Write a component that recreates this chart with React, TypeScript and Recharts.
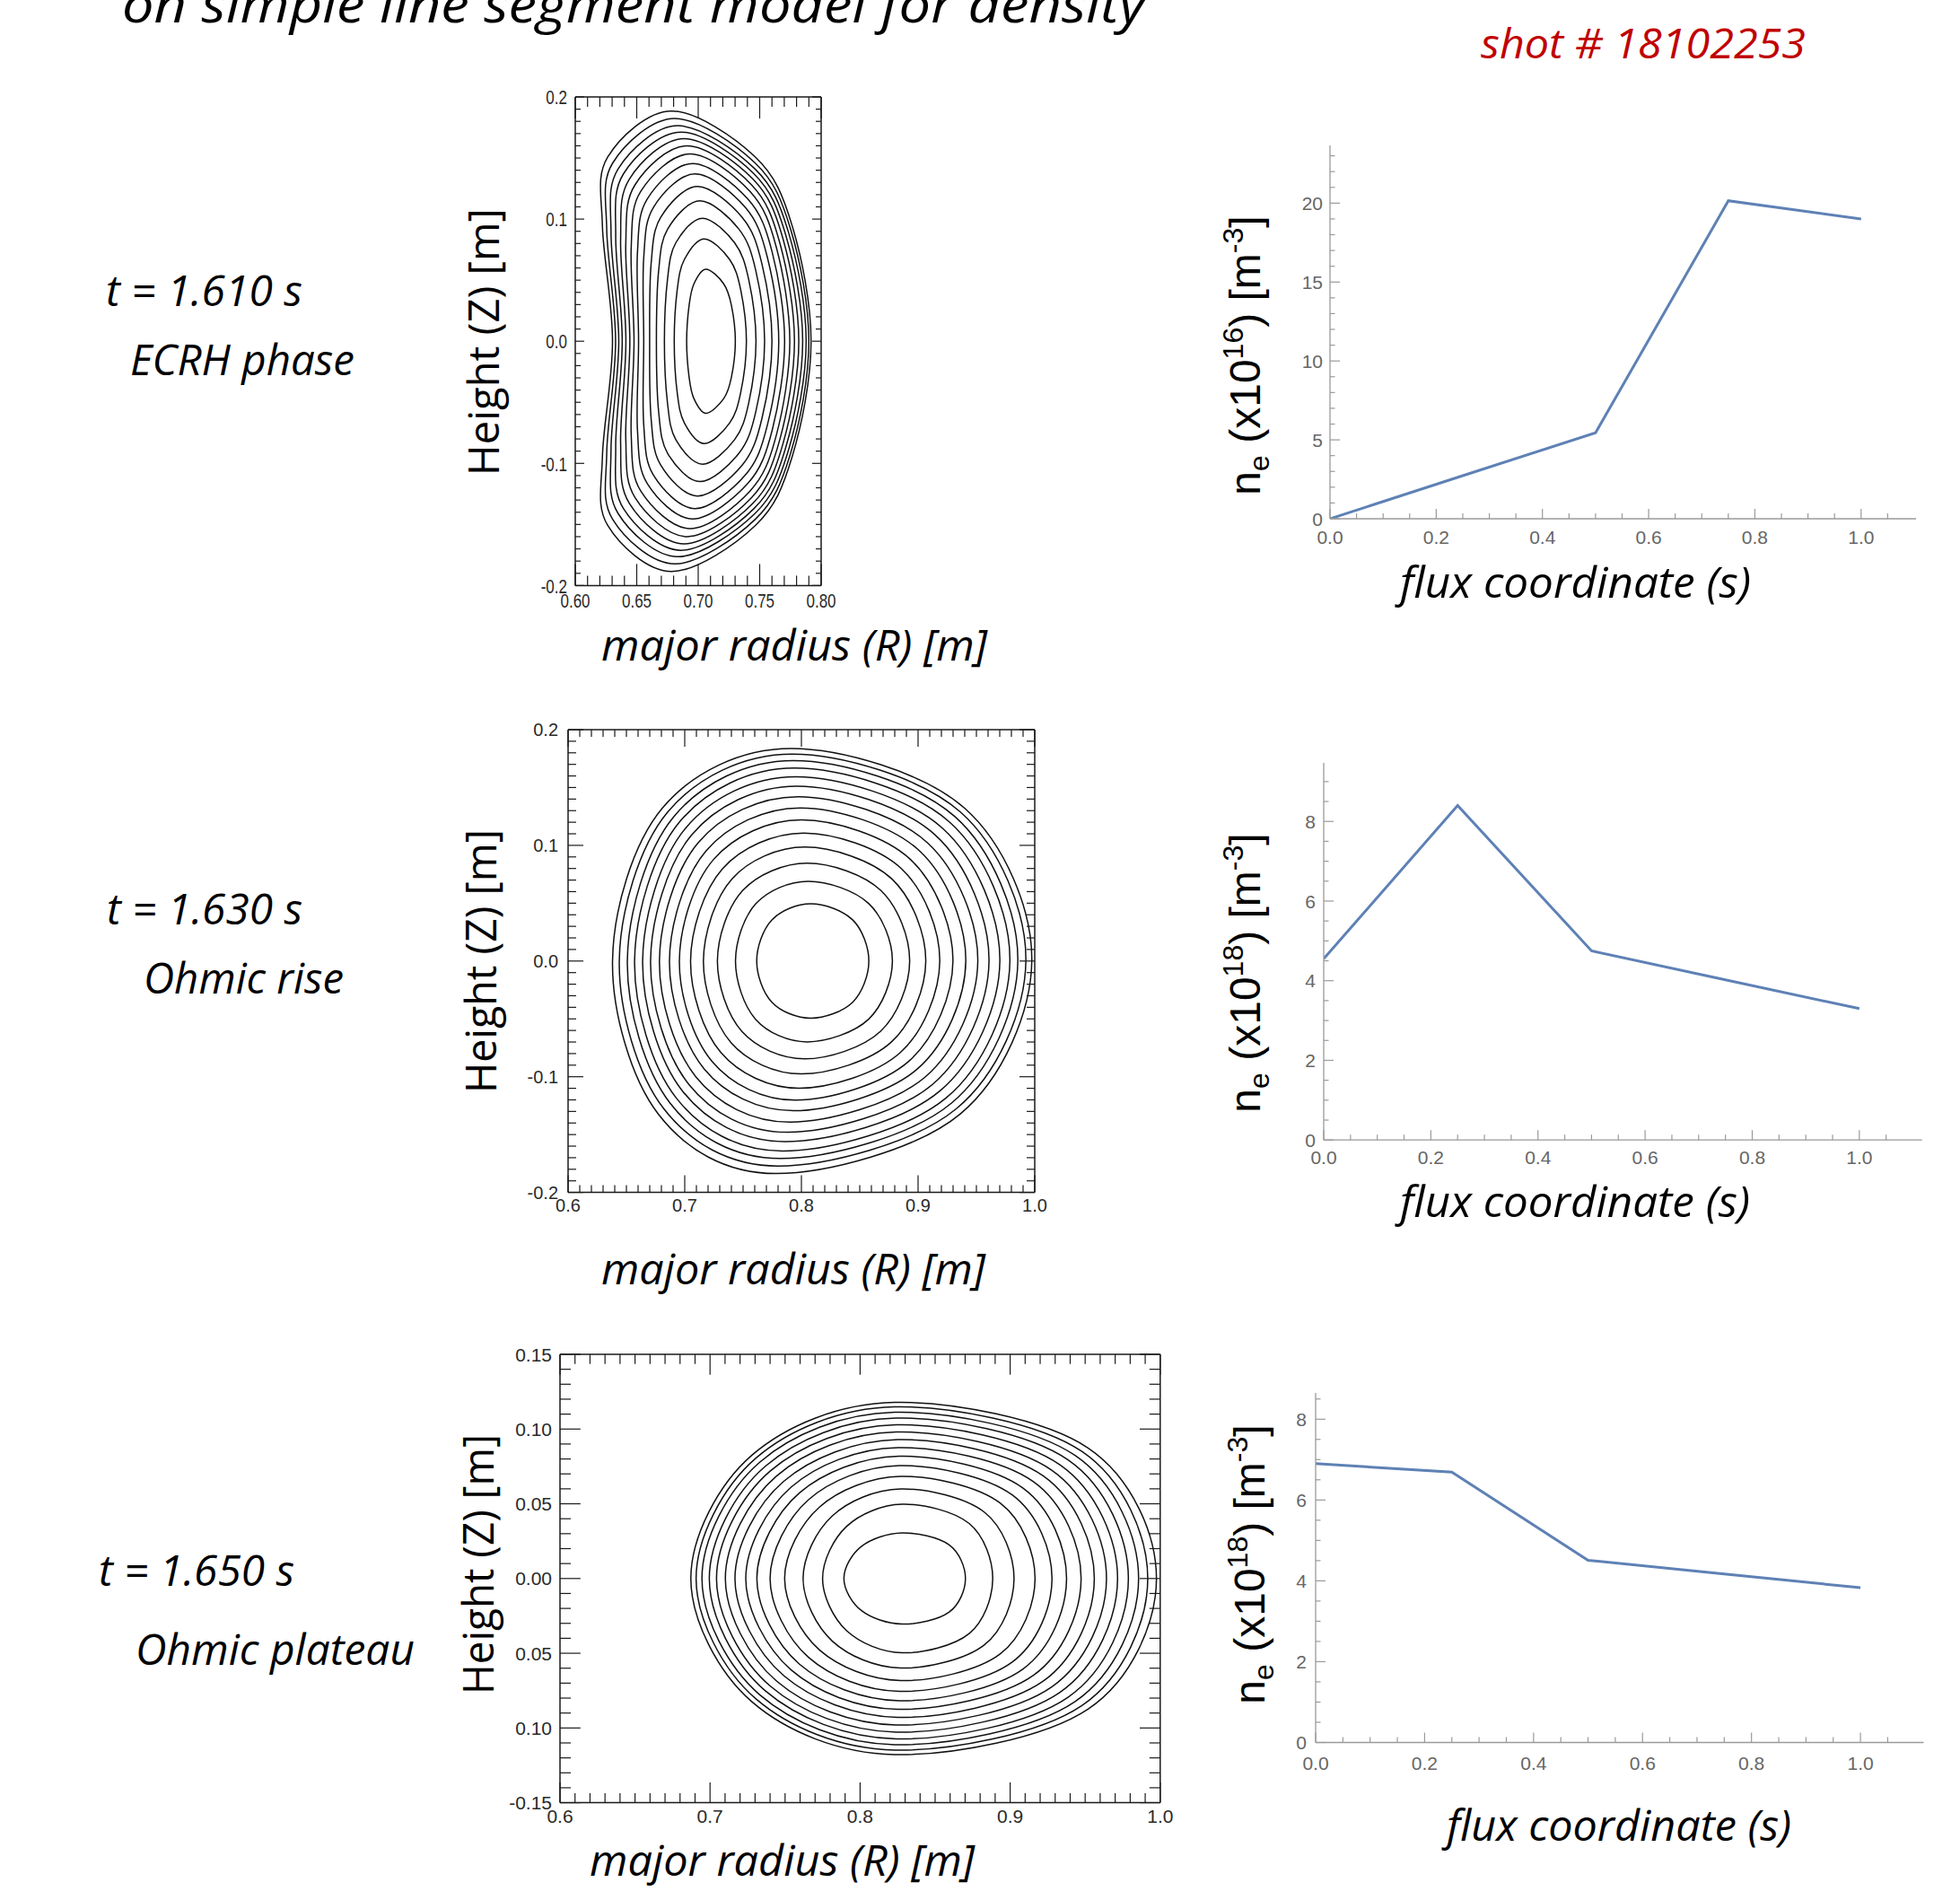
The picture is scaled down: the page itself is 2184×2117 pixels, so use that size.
import React from "react";
import { LineChart, Line, XAxis, YAxis } from "recharts";

// ---------------- data ----------------
const fluxS = [0, 0.25, 0.5, 0.75, 1.0];
const neEcrh = [0, 2.73, 5.45, 20.15, 19.0]; // x10^16 m^-3, t = 1.610 s
const neOhmicRise = [4.55, 8.4, 4.75, 4.02, 3.3]; // x10^18 m^-3, t = 1.630 s
const neOhmicPlateau = [6.9, 6.69, 4.51, 4.17, 3.83]; // x10^18 m^-3, t = 1.650 s

const timeLabels = ["t = 1.610 s", "t = 1.630 s", "t = 1.650 s"];
const phaseLabels = ["ECRH phase", "Ohmic rise", "Ohmic plateau"];
const neExponents = ["16", "18", "18"];

// flux surfaces [R, Z] in metres, inner -> outer
const ecrhSurfaces = [
  [[.7302,0],[.7270,.0295],[.7206,.0472],[.7063,.0590],[.6966,.0472],[.6926,.0295],[.6906,0],[.6926,-.0295],[.6966,-.0472],[.7063,-.0590],[.7206,-.0472],[.7270,-.0295]],
  [[.7392,0],[.7346,.0419],[.7255,.0670],[.7050,.0838],[.6888,.0670],[.6829,.0419],[.6805,0],[.6829,-.0419],[.6888,-.0670],[.7050,-.0838],[.7255,-.0670],[.7346,-.0419]],
  [[.7470,0],[.7411,.0504],[.7296,.0806],[.7035,.1007],[.6818,.0806],[.6750,.0504],[.6725,0],[.6750,-.0504],[.6818,-.0806],[.7035,-.1007],[.7296,-.0806],[.7411,-.0504]],
  [[.7540,0],[.7469,.0575],[.7330,.0919],[.7015,.1149],[.6752,.0919],[.6678,.0575],[.6660,0],[.6678,-.0575],[.6752,-.0919],[.7015,-.1149],[.7330,-.0919],[.7469,-.0575]],
  [[.7600,0],[.7518,.0634],[.7358,.1014],[.6995,.1267],[.6695,.1014],[.6617,.0634],[.6605,0],[.6617,-.0634],[.6695,-.1014],[.6995,-.1267],[.7358,-.1014],[.7518,-.0634]],
  [[.7655,0],[.7563,.0685],[.7383,.1096],[.6975,.1370],[.6636,.1096],[.6557,.0685],[.6557,0],[.6557,-.0685],[.6636,-.1096],[.6975,-.1370],[.7383,-.1096],[.7563,-.0685]],
  [[.7703,0],[.7602,.0728],[.7404,.1164],[.6955,.1455],[.6585,.1164],[.6506,.0728],[.6515,0],[.6506,-.0728],[.6585,-.1164],[.6955,-.1455],[.7404,-.1164],[.7602,-.0728]],
  [[.7745,0],[.7636,.0767],[.7421,.1227],[.6935,.1534],[.6533,.1227],[.6455,.0767],[.6478,0],[.6455,-.0767],[.6533,-.1227],[.6935,-.1534],[.7421,-.1227],[.7636,-.0767]],
  [[.7783,0],[.7665,.0800],[.7434,.1280],[.6910,.1600],[.6486,.1280],[.6411,.0800],[.6444,0],[.6411,-.0800],[.6486,-.1280],[.6910,-.1600],[.7434,-.1280],[.7665,-.0800]],
  [[.7818,0],[.7692,.0830],[.7445,.1327],[.6885,.1659],[.6440,.1327],[.6369,.0830],[.6412,0],[.6369,-.0830],[.6440,-.1327],[.6885,-.1659],[.7445,-.1327],[.7692,-.0830]],
  [[.7850,0],[.7716,.0856],[.7454,.1370],[.6860,.1712],[.6392,.1370],[.6329,.0856],[.6382,0],[.6329,-.0856],[.6392,-.1370],[.6860,-.1712],[.7454,-.1370],[.7716,-.0856]],
  [[.7878,0],[.7737,.0882],[.7461,.1411],[.6835,.1764],[.6349,.1411],[.6291,.0882],[.6354,0],[.6291,-.0882],[.6349,-.1411],[.6835,-.1764],[.7461,-.1411],[.7737,-.0882]],
  [[.7900,0],[.7753,.0912],[.7464,.1458],[.6810,.1823],[.6304,.1458],[.6256,.0912],[.6328,0],[.6256,-.0912],[.6304,-.1458],[.6810,-.1823],[.7464,-.1458],[.7753,-.0912]],
  [[.7918,0],[.7765,.0943],[.7465,.1508],[.6785,.1885],[.6264,.1508],[.6221,.0943],[.6303,0],[.6221,-.0943],[.6264,-.1508],[.6785,-.1885],[.7465,-.1508],[.7765,-.0943]],
];

const riseSurfaces = [
  [[.8578,0],[.8439,.0356],[.808,.0494],[.7747,.0356],[.7617,0],[.7747,-.0356],[.808,-.0494],[.8439,-.0356]],
  [[.878,0],[.8578,.0496],[.806,.0689],[.7610,.0496],[.7435,0],[.7607,-.0503],[.805,-.0699],[.8576,-.0503]],
  [[.8928,0],[.8682,.0609],[.805,.0846],[.7496,.0609],[.728,0],[.7490,-.0609],[.803,-.0846],[.8677,-.0609]],
  [[.9066,0],[.8776,.0709],[.803,.0985],[.7404,.0709],[.716,0],[.7395,-.0703],[.800,-.0976],[.8768,-.0703]],
  [[.9186,0],[.8860,.0796],[.802,.1106],[.7322,.0796],[.705,0],[.7310,-.0791],[.798,-.1099],[.8848,-.0791]],
  [[.9299,0],[.8935,.0878],[.800,.1220],[.7247,.0878],[.6954,0],[.7233,-.0866],[.795,-.1203],[.8921,-.0866]],
  [[.9409,0],[.9012,.0953],[.799,.1324],[.7183,.0953],[.6869,0],[.7166,-.0932],[.793,-.1294],[.8995,-.0932]],
  [[.9512,0],[.9080,.1023],[.797,.1421],[.7115,.1023],[.6783,0],[.7096,-.1002],[.790,-.1392],[.9061,-.1002]],
  [[.9608,0],[.9147,.1089],[.796,.1512],[.7058,.1089],[.6707,0],[.7035,-.1066],[.788,-.1480],[.9124,-.1066]],
  [[.9701,0],[.9211,.1147],[.795,.1593],[.7006,.1147],[.6639,0],[.6981,-.1124],[.786,-.1561],[.9186,-.1124]],
  [[.9787,0],[.9270,.1201],[.794,.1668],[.6954,.1201],[.657,0],[.6926,-.1182],[.784,-.1642],[.9242,-.1182]],
  [[.9855,0],[.9316,.1248],[.793,.1733],[.6906,.1248],[.6508,0],[.6875,-.1229],[.782,-.1707],[.9285,-.1229]],
  [[.9924,0],[.9363,.1288],[.792,.1789],[.6854,.1288],[.6439,0],[.6820,-.1276],[.780,-.1772],[.9329,-.1276]],
  [[.9975,0],[.9397,.1323],[.791,.1837],[.6809,.1323],[.6381,0],[.6773,-.1323],[.778,-.1837],[.9360,-.1323]],
];

const plateauSurfaces = [
  [[.8702,0],[.8592,.0226],[.828,.0305],[.8008,.0214],[.7892,0],[.8008,-.0214],[.828,-.0305],[.8592,-.0226]],
  [[.8884,0],[.8727,.0368],[.828,.0497],[.7909,.0348],[.7750,0],[.7909,-.0348],[.828,-.0497],[.8727,-.0368]],
  [[.9026,0],[.8829,.0443],[.827,.0599],[.7815,.0419],[.7620,0],[.7815,-.0419],[.827,-.0599],[.8829,-.0443]],
  [[.9166,0],[.8933,.0505],[.827,.0683],[.7729,.0478],[.7497,0],[.7729,-.0478],[.827,-.0683],[.8933,-.0505]],
  [[.9279,0],[.9014,.0559],[.826,.0755],[.7658,.0529],[.7400,0],[.7658,-.0529],[.826,-.0755],[.9014,-.0559]],
  [[.9376,0],[.9086,.0605],[.826,.0818],[.7596,.0573],[.7312,0],[.7596,-.0573],[.826,-.0818],[.9086,-.0605]],
  [[.9473,0],[.9155,.0648],[.825,.0875],[.7542,.0613],[.7238,0],[.7542,-.0613],[.825,-.0875],[.9155,-.0648]],
  [[.9561,0],[.9220,.0687],[.825,.0929],[.7491,.0650],[.7166,0],[.7491,-.0650],[.825,-.0929],[.9220,-.0687]],
  [[.9642,0],[.9277,.0725],[.824,.0980],[.7443,.0686],[.7102,0],[.7443,-.0686],[.824,-.0980],[.9277,-.0725]],
  [[.9716,0],[.9332,.0761],[.824,.1028],[.7402,.0720],[.7043,0],[.7402,-.0720],[.824,-.1028],[.9332,-.0761]],
  [[.9788,0],[.9386,.0794],[.824,.1073],[.7368,.0751],[.6995,0],[.7368,-.0751],[.824,-.1073],[.9386,-.0794]],
  [[.9856,0],[.9433,.0823],[.823,.1112],[.7331,.0778],[.6946,0],[.7331,-.0778],[.823,-.1112],[.9433,-.0823]],
  [[.9917,0],[.9478,.0850],[.823,.1148],[.7304,.0804],[.6907,0],[.7304,-.0804],[.823,-.1148],[.9478,-.0850]],
  [[.9975,0],[.9521,.0872],[.823,.1178],[.7279,.0825],[.6872,0],[.7279,-.0825],[.823,-.1178],[.9521,-.0872]],
];

// tick labels
const rTicksFine = [0.6, 0.65, 0.7, 0.75, 0.8];
const rLabelsFine = ["0.60", "0.65", "0.70", "0.75", "0.80"];
const rTicksWide = [0.6, 0.7, 0.8, 0.9, 1.0];
const rLabelsWide = ["0.6", "0.7", "0.8", "0.9", "1.0"];
const zTicks02 = [-0.2, -0.1, 0, 0.1, 0.2];
const zLabels02 = ["-0.2", "-0.1", "0.0", "0.1", "0.2"];
const zTicks015 = [-0.15, -0.1, -0.05, 0, 0.05, 0.1, 0.15];
const zLabels015 = ["-0.15", "0.10", "0.05", "0.00", "0.05", "0.10", "0.15"];
const sTicks = [0, 0.2, 0.4, 0.6, 0.8, 1.0];

// ---------------- helpers ----------------
const steps = (a: number, b: number, s: number) => {
  const out: number[] = [];
  for (let i = 0; a + i * s <= b + 1e-9; i++) out.push(+(a + i * s).toFixed(6));
  return out;
};

// closed Catmull-Rom curve through the surface points
const closedSpline: any = (context: any) => {
  let pts: number[][] = [];
  return {
    areaStart() {},
    areaEnd() {},
    lineStart() { pts = []; },
    point(x: number, y: number) { pts.push([+x, +y]); },
    lineEnd() {
      const n = pts.length;
      if (n < 3) return;
      context.moveTo(pts[0][0], pts[0][1]);
      for (let i = 0; i < n; i++) {
        const p0 = pts[(i + n - 1) % n], p1 = pts[i], p2 = pts[(i + 1) % n], p3 = pts[(i + 2) % n];
        context.bezierCurveTo(
          p1[0] + (p2[0] - p0[0]) / 6, p1[1] + (p2[1] - p0[1]) / 6,
          p2[0] - (p3[0] - p1[0]) / 6, p2[1] - (p3[1] - p1[1]) / 6,
          p2[0], p2[1]);
      }
      context.closePath();
    },
  };
};

const majorIndex = (list: number[], v: number) => list.findIndex((m) => Math.abs(m - v) < 1e-6);

type Box = { left: number; top: number; width: number; height: number };

type TickCfg = {
  side: "b" | "t" | "l" | "r";
  major: number[];
  labels?: string[];
  len: [number, number];
  color: string;
  font?: number;
  fontFamily?: string;
  labelColor?: string;
  sy?: number;
  dy?: number;
  gap?: number;
};

const makeTick = (c: TickCfg) => (p: any) => {
  const v = p.payload.value;
  const mi = majorIndex(c.major, v);
  const len = mi >= 0 ? c.len[0] : c.len[1];
  const x = p.x, y = p.y;
  let ln;
  if (c.side === "b") ln = <line x1={x} x2={x} y1={y} y2={y - len} />;
  else if (c.side === "t") ln = <line x1={x} x2={x} y1={y} y2={y + len} />;
  else if (c.side === "l") ln = <line x1={x} x2={x + len} y1={y} y2={y} />;
  else ln = <line x1={x} x2={x - len} y1={y} y2={y} />;
  let label = null;
  if (c.labels && mi >= 0) {
    const sy = c.sy ?? 1;
    if (c.side === "b") {
      label = (
        <text transform={`translate(${x},${y + (c.dy ?? 20)}) scale(1,${sy})`} textAnchor="middle"
          fontSize={c.font} fontFamily={c.fontFamily} fill={c.labelColor}>{c.labels[mi]}</text>
      );
    } else {
      label = (
        <text transform={`translate(${x - (c.gap ?? 8)},${y}) scale(1,${sy})`} textAnchor="end" dy="0.36em"
          fontSize={c.font} fontFamily={c.fontFamily} fill={c.labelColor}>{c.labels[mi]}</text>
      );
    }
  }
  return (
    <g>
      <g stroke={c.color} strokeWidth={1.2}>{ln}</g>
      {label}
    </g>
  );
};

// ---------------- flux-surface panel ----------------
// each axis takes 1px (recharts skips axes of zero size), margins are set around that
const CM = { top: 30, right: 30, bottom: 50, left: 95 };

type ContourProps = {
  box: Box;
  surfaces: number[][][];
  xDomain: [number, number];
  xMajor: number[];
  xLabels: string[];
  yDomain: [number, number];
  yMajor: number[];
  yLabels: string[];
  xLen: [number, number];
  yLen: [number, number];
  font: number;
  sy: number;
  xDy: number;
  yGap: number;
};

const frameColor = "#1a1a1a";
const idlFont = "'Liberation Sans', Arial, sans-serif";

const ContourPanel = (p: ContourProps) => {
  const xTicks = steps(p.xDomain[0], p.xDomain[1], 0.01);
  const yTicks = steps(p.yDomain[0], p.yDomain[1], 0.01);
  const lineData = p.surfaces.map((s) => s.map(([r, z]) => ({ r, z })));
  const common = { type: "number" as const, allowDataOverflow: true, interval: 0 as const, tickSize: 0, tickMargin: 0, tickLine: false, axisLine: { stroke: frameColor, strokeWidth: 1.5 } };
  const tk = { color: frameColor, font: p.font, fontFamily: idlFont, labelColor: "#2a2a2a", sy: p.sy };
  return (
    <div style={{ position: "absolute", left: p.box.left - CM.left - 1, top: p.box.top - CM.top - 1 }}>
      <LineChart width={p.box.width + CM.left + CM.right + 2} height={p.box.height + CM.top + CM.bottom + 2} margin={CM}>
        <XAxis {...common} xAxisId="b" dataKey="r" domain={p.xDomain} ticks={xTicks} height={1}
          tick={makeTick({ ...tk, side: "b", major: p.xMajor, labels: p.xLabels, len: p.xLen, dy: p.xDy })} />
        <XAxis {...common} xAxisId="t" orientation="top" dataKey="r" domain={p.xDomain} ticks={xTicks} height={1}
          tick={makeTick({ ...tk, side: "t", major: p.xMajor, len: p.xLen })} />
        <YAxis {...common} yAxisId="l" domain={p.yDomain} ticks={yTicks} width={1}
          tick={makeTick({ ...tk, side: "l", major: p.yMajor, labels: p.yLabels, len: p.yLen, gap: p.yGap })} />
        <YAxis {...common} yAxisId="r" orientation="right" domain={p.yDomain} ticks={yTicks} width={1}
          tick={makeTick({ ...tk, side: "r", major: p.yMajor, len: p.yLen })} />
        {lineData.map((d, i) => (
          <Line key={i} xAxisId="b" yAxisId="l" data={d} dataKey="z" type={closedSpline} stroke="#111"
            strokeWidth={1.5} dot={false} activeDot={false} isAnimationActive={false} legendType="none" />
        ))}
      </LineChart>
    </div>
  );
};

// ---------------- density profile panel ----------------
const PM = { top: 20, right: 20, bottom: 50, left: 70 };
const mmaAxis = "#9a9a9a";
const mmaLabel = "#666";
const mmaFont = "'Liberation Sans', Arial, sans-serif";

type ProfileProps = {
  box: Box;
  values: number[];
  xMax: number;
  yMax: number;
  yMajor: number[];
  yStep: number;
  yTop: number;
  yGap: number;
  xDy: number;
};

const ProfilePanel = (p: ProfileProps) => {
  const data = fluxS.map((s, i) => ({ s, ne: p.values[i] }));
  const common = { type: "number" as const, allowDataOverflow: true, interval: 0 as const, tickSize: 0, tickMargin: 0, tickLine: false, axisLine: { stroke: mmaAxis, strokeWidth: 1.3 } };
  const tk = { color: mmaAxis, font: 21, fontFamily: mmaFont, labelColor: mmaLabel };
  return (
    <div style={{ position: "absolute", left: p.box.left - PM.left - 1, top: p.box.top - PM.top }}>
      <LineChart width={p.box.width + PM.left + PM.right + 1} height={p.box.height + PM.top + PM.bottom + 1} margin={PM} data={data}>
        <XAxis {...common} dataKey="s" domain={[0, p.xMax]} ticks={steps(0, 1.05, 0.05)} height={1}
          tick={makeTick({ ...tk, side: "b", major: sTicks, labels: sTicks.map((v) => v.toFixed(1)), len: [11, 6], dy: p.xDy })} />
        <YAxis {...common} domain={[0, p.yMax]} ticks={steps(0, p.yTop, p.yStep)} width={1}
          tick={makeTick({ ...tk, side: "l", major: p.yMajor, labels: p.yMajor.map(String), len: [11, 5.5], gap: p.yGap })} />
        <Line dataKey="ne" type="linear" stroke="#5E81B5" strokeWidth={3} dot={false} activeDot={false}
          isAnimationActive={false} legendType="none" />
      </LineChart>
    </div>
  );
};

// ---------------- free text ----------------
const sans = "'Open Sans', 'Noto Sans', sans-serif";

const NeLabel = ({ x, y, exp }: { x: number; y: number; exp: string }) => (
  <text transform={`translate(${x},${y}) rotate(-90)`} textAnchor="middle" fontSize={48}
    fontFamily="'Liberation Sans', Arial, sans-serif" fill="#000">
    n<tspan fontSize={32} dy={10}>e</tspan>
    <tspan dy={-10}> (x10</tspan>
    <tspan fontSize={32} dy={-19}>{exp}</tspan>
    <tspan dy={19}>)  [m</tspan>
    <tspan fontSize={32} dy={-19}>-3</tspan>
    <tspan dy={19}>]</tspan>
  </text>
);

const HeightLabel = ({ x, y, len }: { x: number; y: number; len: number }) => (
  <text transform={`translate(${x},${y}) rotate(-90)`} textAnchor="middle" fontSize={47} fontFamily={sans}
    fill="#000" textLength={len} lengthAdjust="spacingAndGlyphs">Height (Z) [m]</text>
);

const Ital = ({ x, y, w, size, fill, children }: any) => (
  <text x={x} y={y} fontSize={size} fontStyle="italic" fontFamily={sans} fill={fill ?? "#000"}
    textLength={w} lengthAdjust="spacingAndGlyphs">{children}</text>
);

export default function App() {
  return (
    <div style={{ position: "absolute", left: 0, top: 0, width: 2184, height: 2117, background: "#fff", overflow: "hidden" }}>
      <svg width={2184} height={2117} style={{ position: "absolute", left: 0, top: 0 }}>
        <Ital x={136} y={25} w={1140} size={56}>on simple line segment model for density</Ital>
        <Ital x={1650} y={65} w={362} size={46} fill="#C00000">shot # 18102253</Ital>

        <Ital x={118} y={341} w={219} size={47}>{timeLabels[0]}</Ital>
        <Ital x={145} y={418} w={250} size={47}>{phaseLabels[0]}</Ital>
        <Ital x={119} y={1030} w={218} size={47}>{timeLabels[1]}</Ital>
        <Ital x={160} y={1107} w={223} size={47}>{phaseLabels[1]}</Ital>
        <Ital x={110} y={1767} w={218} size={47}>{timeLabels[2]}</Ital>
        <Ital x={151} y={1855} w={311} size={47}>{phaseLabels[2]}</Ital>

        <HeightLabel x={556} y={381} len={298} />
        <HeightLabel x={553} y={1071} len={294} />
        <HeightLabel x={550} y={1743} len={290} />

        <Ital x={670} y={736} w={430} size={47}>major radius (R) [m]</Ital>
        <Ital x={670} y={1431} w={428} size={47}>major radius (R) [m]</Ital>
        <Ital x={657} y={2090} w={429} size={47}>major radius (R) [m]</Ital>

        <NeLabel x={1404} y={396} exp={neExponents[0]} />
        <NeLabel x={1404} y={1084} exp={neExponents[1]} />
        <NeLabel x={1409} y={1743} exp={neExponents[2]} />

        <Ital x={1560} y={666} w={391} size={47}>flux coordinate (s)</Ital>
        <Ital x={1560} y={1356} w={390} size={47}>flux coordinate (s)</Ital>
        <Ital x={1612} y={2051} w={384} size={47}>flux coordinate (s)</Ital>
      </svg>

      <ContourPanel box={{ left: 641, top: 107.6, width: 274, height: 544.4 }} surfaces={ecrhSurfaces}
        xDomain={[0.6, 0.8]} xMajor={rTicksFine} xLabels={rLabelsFine}
        yDomain={[-0.2, 0.2]} yMajor={zTicks02} yLabels={zLabels02}
        xLen={[24, 11]} yLen={[10, 6]} font={17} sy={1.35} xDy={25} yGap={9} />
      <ContourPanel box={{ left: 632.6, top: 813, width: 520, height: 515.6 }} surfaces={riseSurfaces}
        xDomain={[0.6, 1.0]} xMajor={rTicksWide} xLabels={rLabelsWide}
        yDomain={[-0.2, 0.2]} yMajor={zTicks02} yLabels={zLabels02}
        xLen={[19, 8]} yLen={[17, 9]} font={20} sy={1} xDy={21} yGap={11} />
      <ContourPanel box={{ left: 623.6, top: 1509.1, width: 668.8, height: 499.6 }} surfaces={plateauSurfaces}
        xDomain={[0.6, 1.0]} xMajor={rTicksWide} xLabels={rLabelsWide}
        yDomain={[-0.15, 0.15]} yMajor={zTicks015} yLabels={zLabels015}
        xLen={[22.7, 10.7]} yLen={[22.8, 12]} font={21} sy={1} xDy={22} yGap={9} />

      <ProfilePanel box={{ left: 1481.8, top: 162, width: 653.1, height: 416 }} values={neEcrh}
        xMax={1.1036} yMax={23.66} yMajor={[0, 5, 10, 15, 20]} yStep={1} yTop={23} yGap={8} xDy={28} />
      <ProfilePanel box={{ left: 1474.7, top: 849.6, width: 666.7, height: 420.2 }} values={neOhmicRise}
        xMax={1.117} yMax={9.47} yMajor={[0, 2, 4, 6, 8]} yStep={0.5} yTop={9} yGap={9} xDy={27} />
      <ProfilePanel box={{ left: 1465.5, top: 1552.4, width: 677.5, height: 389.5 }} values={neOhmicPlateau}
        xMax={1.116} yMax={8.65} yMajor={[0, 2, 4, 6, 8]} yStep={0.5} yTop={8.5} yGap={10} xDy={30} />
    </div>
  );
}
